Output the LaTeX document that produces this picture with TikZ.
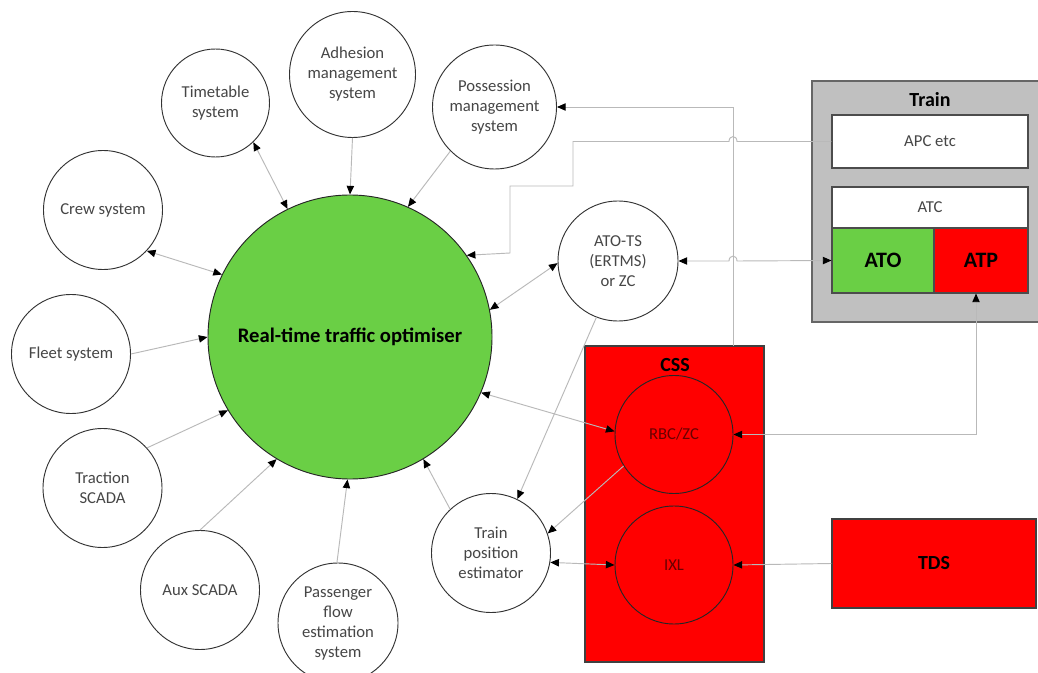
\documentclass[tikz,border=0pt]{standalone}
\usepackage{fontspec}
\setmainfont{Carlito}
\usetikzlibrary{arrows.meta}
\definecolor{optgreen}{RGB}{106,207,69}
\definecolor{trgray}{RGB}{192,192,192}
\definecolor{connc}{RGB}{185,185,185}
\definecolor{lbl}{RGB}{70,70,70}
\definecolor{dred}{RGB}{105,0,0}
\begin{document}
\begin{tikzpicture}[x=0.75pt,y=-0.75pt,
  >={Triangle[length=6.5pt,width=5.5pt,color=black]},
  sys/.style={circle,draw=black!80,line width=0.7pt,fill=white,inner sep=0pt,
    minimum size=89.25pt,align=center,font=\fontsize{12.5}{15}\selectfont,text=lbl},
  inner/.style={circle,draw=black!85,line width=0.7pt,fill=red,inner sep=0pt,
    minimum size=88.5pt,font=\fontsize{12.5}{15}\selectfont,text=dred},
  box/.style={rectangle,draw=black!70,line width=0.8pt,inner sep=0pt},
  conn/.style={draw=connc,line width=0.7pt},
  title/.style={font=\fontsize{15}{18}\selectfont\bfseries,text=black},
  bigtitle/.style={font=\fontsize{16.5}{18}\selectfont\bfseries,text=black},
]
\useasboundingbox (0,0) rectangle (1038,673);
\clip (0,0) rectangle (1038,673);
\fill[white] (0,0) rectangle (1038,673);

% main optimiser
\node[circle,draw=black!85,line width=0.7pt,fill=optgreen,inner sep=0pt,minimum size=213pt,
  font=\fontsize{15.5}{18}\selectfont\bfseries] (opt) at (350,337) {Real-time traffic optimiser};

% surrounding systems
\node[sys,minimum size=81pt] (tt) at (215.5,103) {Timetable\\system};
\node[sys,minimum size=94.5pt] (adh) at (352.5,74.5) {Adhesion\\management\\system};
\node[sys,minimum size=93pt] (poss) at (494.5,107) {Possession\\management\\system};
\node[sys] (crew) at (103,210) {Crew system};
\node[sys] (fleet) at (71,354) {Fleet system};
\node[sys] (trac) at (102.5,488) {Traction\\SCADA};
\node[sys] (aux) at (200,590) {Aux SCADA};
\node[sys,minimum size=90pt] (pass) at (338,623) {Passenger\\flow\\estimation\\system};
\node[sys] (tpe) at (491,553) {Train\\position\\estimator};
\node[sys,minimum size=90pt] (atots) at (618,261) {ATO-TS\\(ERTMS)\\or ZC};

% Train box
\draw[fill=trgray,draw=black!60,line width=0.8pt] (812,81) rectangle (1050,322);
\node[title] (trainlbl) at (930,100) {Train};
\node[box,fill=white,minimum width=147pt,minimum height=39.75pt,
  font=\fontsize{12.5}{15}\selectfont,text=lbl] (apc) at (930,141.5) {APC etc};
\node[rectangle,fill=white,inner sep=0pt,minimum width=147pt,minimum height=30.75pt,
  font=\fontsize{12.5}{15}\selectfont,text=lbl] (atc) at (930,207.5) {ATC};
\node[rectangle,fill=optgreen,draw=black!70,line width=0.8pt,inner sep=0pt,minimum width=76.5pt,minimum height=48.75pt,
  bigtitle] (ato) at (883,260.5) {ATO};
\node[rectangle,fill=red,draw=black!70,line width=0.8pt,inner sep=0pt,minimum width=70.5pt,minimum height=48.75pt,
  bigtitle] (atp) at (981,260.5) {ATP};
\draw[draw=black!70,line width=0.8pt] (832,187) rectangle (1028,293);

% CSS
\node[rectangle,fill=red,draw=black!75,line width=0.8pt,inner sep=0pt,
  minimum width=134.25pt,minimum height=237pt] (css) at (674.5,504) {};
\node[title] (csslbl) at (675,365) {CSS};
\node[inner] (rbc) at (674,434.5) {RBC/ZC};
\node[inner] (ixl) at (674,565) {IXL};

% TDS
\node[rectangle,fill=red,draw=black!75,line width=0.8pt,inner sep=0pt,
  minimum width=153pt,minimum height=66.75pt,title] (tds) at (934,563.5) {TDS};

\coordinate (cssout) at (733,346);

% connectors
\draw[conn,<->] (tt.-46.8) -- (opt.116.7);
\draw[conn,->] (adh.-90) -- (opt.90.8);
\draw[conn,->] (poss.-135.3) -- (opt.66.8);
\draw[conn,<->] (crew.-43.7) -- (opt.154.9);
\draw[conn,->] (fleet.0) -- (opt.180.8);
\draw[conn,->] (trac.42.8) -- (opt.211.5);
\draw[conn,->] (aux.90) -- (opt.239.6);
\draw[conn,->] (pass.91) -- (opt.-91);
\draw[conn,->] (tpe.133.7) -- (opt.-59.2);
\draw[conn,<->] (atots.182) -- (opt.11.5);
\draw[conn,->] (atots.-111.3) -- (tpe.64.3);
\draw[conn,<->] (rbc.177.7) -- (opt.-23.2);
\draw[conn,->] (rbc.-148) -- (tpe.19.3);
\draw[conn,<->] (ixl.180) -- (tpe.-9);
\draw[conn,->] (tds.west) -- (ixl.east);
\draw[conn,<->] (rbc.east) -| ([xshift=-3.75pt]atp.south);
\draw[conn,->] (cssout) |- (poss.east);
\draw[conn,<->] (atots.east) -- (729,261) .. controls (729,254.5) and (737,254.5) .. (737,261) -- (ato.west);
\draw[conn,->] (apc.west) -- (737,141.5) .. controls (737,135) and (729,135) .. (729,141.5)
  -- (573,141.5) -- (573,186) -- (510,186) -- (510,253) -- (opt.35.4);
\end{tikzpicture}
\end{document}
